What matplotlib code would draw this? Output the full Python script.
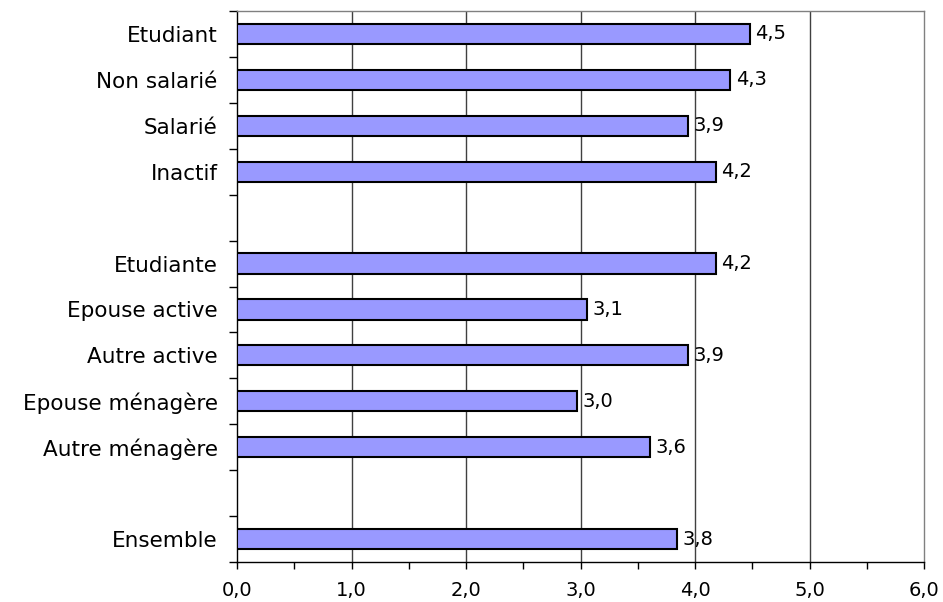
import matplotlib
matplotlib.use("Agg")
import matplotlib.pyplot as plt
from matplotlib.ticker import MultipleLocator, FixedLocator, NullFormatter

categories = ["Etudiant", "Non salarié", "Salarié", "Inactif", "",
              "Etudiante", "Epouse active", "Autre active", "Epouse ménagère",
              "Autre ménagère", "", "Ensemble"]
values = [4.48, 4.31, 3.94, 4.18, None,
          4.18, 3.06, 3.94, 2.97, 3.61, None, 3.84]
x_ticks = [0, 1, 2, 3, 4, 5, 6]
x_tick_labels = ["0,0", "1,0", "2,0", "3,0", "4,0", "5,0", "6,0"]

plt.rcParams['font.family'] = ['DejaVu Sans']

fig = plt.figure(figsize=(9.43, 6.02), dpi=100)
ax = fig.add_axes([237/943, 1 - 562/602, (924 - 237)/943, (562 - 11)/602])

n = len(categories)
ypos = [n - i - 0.5 for i in range(n)]

fs = 14
fs_cat = 15.5

for y, v in zip(ypos, values):
    if v is None:
        continue
    ax.barh(y, v, height=0.44, color="#9999FF", edgecolor="black",
            linewidth=1.5, zorder=3)
    ax.annotate(f"{v:.1f}".replace(".", ","), xy=(v, y), xytext=(4, 0),
                textcoords="offset points", va="center", ha="left",
                fontsize=fs, zorder=4)

ax.set_xlim(0, 6)
ax.set_ylim(0, n)
ax.set_xticks(x_ticks)
ax.set_xticklabels(x_tick_labels, fontsize=fs)
ax.xaxis.set_minor_locator(MultipleLocator(0.5))

# y ticks at category boundaries, labels at centers
ax.yaxis.set_major_locator(FixedLocator(list(range(n + 1))))
ax.yaxis.set_major_formatter(NullFormatter())
ax.yaxis.set_minor_locator(FixedLocator(ypos))
ax.set_yticklabels(categories, minor=True, fontsize=fs_cat)
ax.tick_params(axis="y", which="minor", length=0, pad=14)
ax.tick_params(axis="y", which="major", length=6, width=1, direction="out")
ax.tick_params(axis="x", which="both", length=5, width=1, direction="out", pad=9)

for xv in [1, 2, 3, 4, 5]:
    ax.axvline(xv, color="#404040", linewidth=1, zorder=1)

for s in ["left", "bottom"]:
    ax.spines[s].set_color("black")
    ax.spines[s].set_linewidth(1)
for s in ["top", "right"]:
    ax.spines[s].set_color("#808080")
    ax.spines[s].set_linewidth(1)

fig.savefig("out.png", dpi=100)
